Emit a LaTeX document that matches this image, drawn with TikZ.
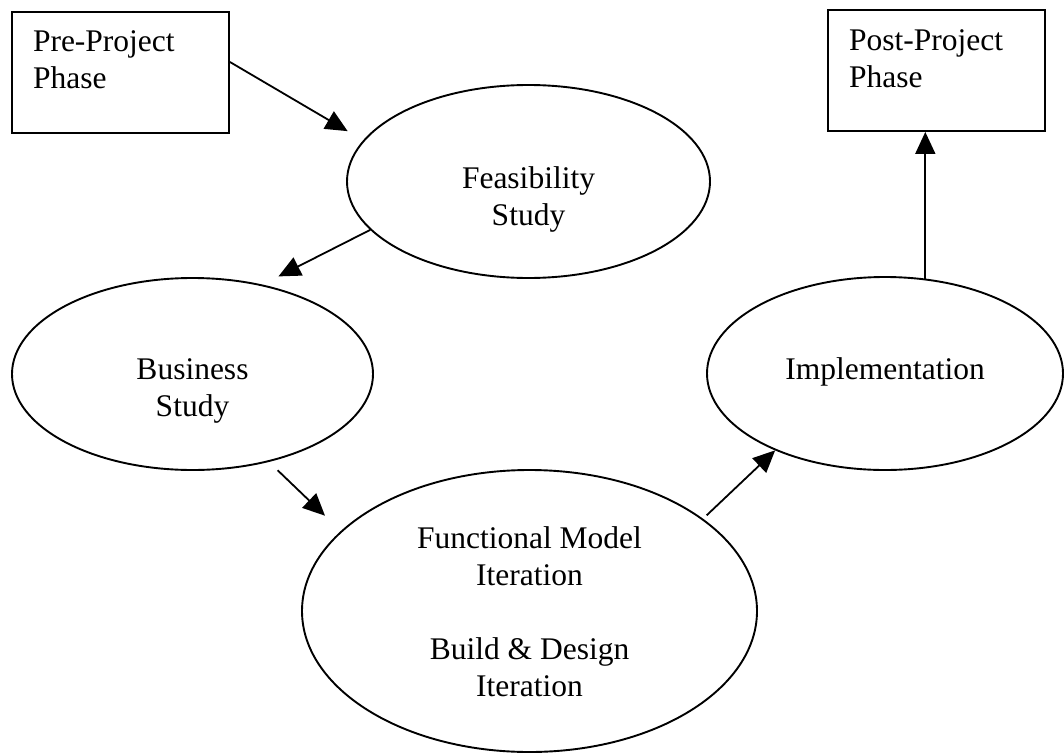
\documentclass[tikz,border=0pt]{standalone}
\usepackage{fontspec}
\setmainfont{Liberation Serif}
\usetikzlibrary{shapes.geometric,arrows.meta}
% multi-line labels whose baseline is the first line
\newcommand\centredlines[1]{\begin{tabular}[t]{@{}c@{}}#1\end{tabular}}
\newcommand\leftlines[1]{\makebox[175pt][l]{\begin{tabular}[t]{@{}l@{}}#1\end{tabular}}}
\begin{document}
\begin{tikzpicture}[x=1pt,y=-1pt,
  label font/.style={font=\fontsize{31.5}{37}\selectfont},
  stage/.style={ellipse, draw, line width=1.9pt, inner sep=0pt, label font},
  phasebox/.style={rectangle, draw, line width=1.9pt, inner xsep=21pt, inner ysep=0pt,
                   text height=40pt, text depth=81pt, label font},
  flow/.style={line width=1.8pt, -{Triangle[length=22pt,width=20pt]}}]
\useasboundingbox (0,0) rectangle (1064,752);

% project phases outside the DSDM cycle
\node[phasebox] (pre)  at (120.5,72.5) {\leftlines{Pre-Project\\Phase}};
\node[phasebox] (post) at (936.5,70.5) {\leftlines{Post-Project\\Phase}};

% DSDM stages
\node[stage, minimum width=363pt, minimum height=193pt, text height=13pt, text depth=0pt]
  (feas) at (528.5,181.5) {\centredlines{Feasibility\\Study}};
\node[stage, minimum width=361pt, minimum height=192pt, text height=10pt, text depth=0pt]
  (bus) at (192.5,374) {\centredlines{Business\\Study}};
\node[stage, minimum width=356pt, minimum height=193pt, text height=11pt, text depth=0pt]
  (impl) at (885,373.5) {\centredlines{Implementation}};
\node[stage, minimum width=455pt, minimum height=282pt, text height=0pt, text depth=126pt]
  (iter) at (529.5,611) {\centredlines{Functional Model\\Iteration\\ \\Build \& Design\\Iteration}};

% transitions
\draw[flow, shorten >=18pt] ([yshift=10.5pt]pre.east) -- (feas.166);
\draw[flow, shorten >=18pt] (feas.197) -- (bus.52);
\draw[flow, shorten <=12pt, shorten >=22pt] (bus.311) -- (iter.157);
\draw[flow, shorten <=5pt] (iter.28) -- (impl.215);
\draw[flow] (impl.67) -- (impl.67 |- post.south);
\end{tikzpicture}
\end{document}
